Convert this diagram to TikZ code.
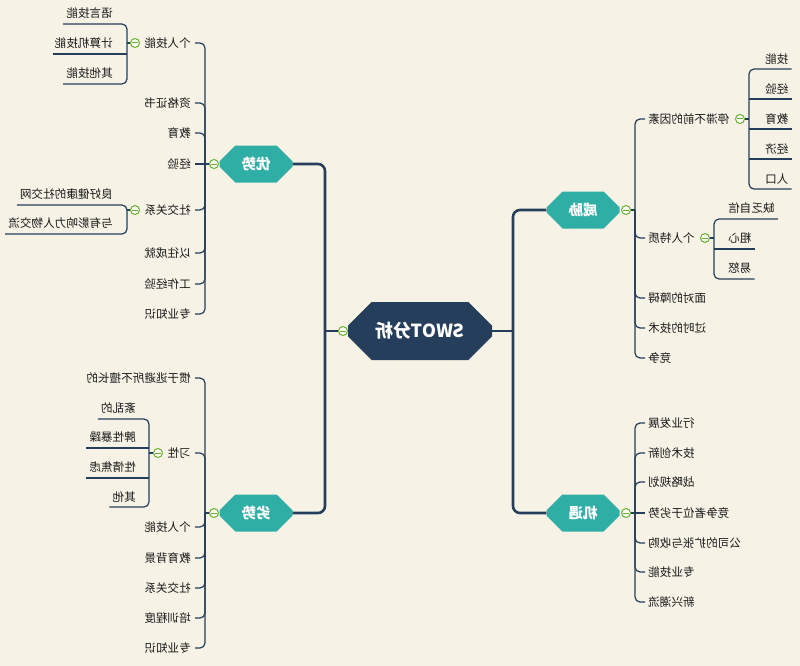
\documentclass[tikz,border=0pt]{standalone}
\usepackage{fontspec}
\usepackage{graphicx}
\setmainfont{Noto Sans CJK SC}
\usetikzlibrary{shapes.misc,calc}
\definecolor{paper}{RGB}{246,243,230}
\definecolor{navy}{RGB}{37,62,91}
\definecolor{tealc}{RGB}{47,174,166}
\definecolor{leaf}{RGB}{106,176,46}
\definecolor{ink}{RGB}{25,25,25}
\begin{document}
\begin{tikzpicture}[x=1pt,y=-1pt,
  lbl/.style={font=\fontsize{11.6}{13}\selectfont, text=ink, inner sep=1pt},
  br/.style={draw=navy, line width=1.2pt, rounded corners=5pt},
  mainln/.style={draw=navy, line width=2.6pt, rounded corners=7pt},
  topic/.style={chamfered rectangle, chamfered rectangle xsep=8pt, chamfered rectangle ysep=9pt,
    fill=tealc, text=white, font=\bfseries\fontsize{14.5}{16}\selectfont,
    minimum width=73pt, minimum height=37pt, inner sep=0pt},
  centre/.style={chamfered rectangle, chamfered rectangle xsep=14pt, chamfered rectangle ysep=15pt,
    fill=navy, text=white, font=\bfseries\fontsize{18}{20}\selectfont,
    minimum width=144pt, minimum height=58pt, inner sep=0pt},
  tog/.style={circle, draw=leaf, fill=white!60!paper, line width=1pt, minimum size=9pt, inner sep=0pt,
    path picture={\draw[leaf, line width=1pt] ($(path picture bounding box.center)+(-2.6,0)$) -- ($(path picture bounding box.center)+(2.6,0)$);}}
]
\fill[paper] (0,0) rectangle (800,666);
\useasboundingbox (0,0) rectangle (800,666);

% main topics
\node[centre] (swot) at (420,331) {\reflectbox{SWOT分析}};
\node[topic] (ys) at (256,164) {\reflectbox{优势}};
\node[topic] (ls) at (256,513) {\reflectbox{劣势}};
\node[topic] (wx) at (583,210) {\reflectbox{威胁}};
\node[topic] (jy) at (583,513) {\reflectbox{机遇}};
\node[tog] (t0) at (343,331) {};
\node[tog] (tys) at (214,164) {};
\node[tog] (tls) at (214,513) {};
\node[tog] (twx) at (626,210) {};
\node[tog] (tjy) at (626,513) {};
\coordinate (jL) at (325,331);
\coordinate (jR) at (513,331);
\draw[mainln] (ys.east) -- (325,164) -- (325,513) -- (ls.east);
\draw[mainln, rounded corners=0pt] (t0.west) -- (jL);
\draw[mainln, rounded corners=0pt] (swot.east) -- (jR);
\draw[mainln] (wx.west) -- (513,210) -- (513,513) -- (jy.west);

% ---- 优势 ----
\coordinate (bys) at (205,164);
\draw[br, rounded corners=0pt] (tys.west) -- (bys);
\foreach \n/\y/\t in {ys1/43/个人技能, ys2/103/资格证书, ys3/133/教育, ys5/210/社交关系, ys6/253/以往成就, ys7/284/工作经验, ys8/314/专业知识} {
  \node[lbl, anchor=east] (\n) at (192,\y) {\reflectbox{\t}};
  \draw[br] (bys) |- ([xshift=3pt]\n.east);
}
\node[lbl, anchor=east] (ys4) at (192,164) {\reflectbox{经验}};
\draw[br, rounded corners=0pt] (bys) -- ([xshift=3pt]ys4.east);

\node[tog] (g1) at (135,43) {};
\foreach \n/\y/\t in {ys11/13/语言技能, ys12/43/计算机技能, ys13/73/其他技能}
  \node[lbl, anchor=east] (\n) at (114,\y) {\reflectbox{\t}};
\draw[br] ($(ys11.west |- 0,24)+(-2,0)$) -- (127,24) -- (127,84) -- ($(ys13.west |- 0,84)+(-2,0)$);
\draw[br] ($(ys12.west |- 0,54)+(-1,0)$) -- (127,54);
\draw[br] (g1.west) -- (127,43);

\node[tog] (g2) at (135,210) {};
\foreach \n/\y/\t in {ys51/194/良好健康的社交网, ys52/223/与有影响力人物交流}
  \node[lbl, anchor=east] (\n) at (114,\y) {\reflectbox{\t}};
\draw[br] ($(ys51.west |- 0,205)+(-2,0)$) -- (127,205) -- (127,234) -- ($(ys52.west |- 0,234)+(-2,0)$);
\draw[br] (g2.west) -- (127,210);

% ---- 劣势 ----
\coordinate (bls) at (205,513);
\draw[br, rounded corners=0pt] (tls.west) -- (bls);
\foreach \n/\y/\t in {ls1/378/惯于逃避所不擅长的, ls2/453/习性, ls3/527/个人技能, ls4/558/教育背景, ls5/588/社交关系, ls6/618/培训程度, ls7/648/专业知识} {
  \node[lbl, anchor=east] (\n) at (192,\y) {\reflectbox{\t}};
  \draw[br] (bls) |- ([xshift=3pt]\n.east);
}
\node[tog] (g3) at (158,453) {};
\foreach \n/\y/\t in {ls21/408/紊乱的, ls22/437/脾性暴躁, ls23/467/性情焦虑, ls24/497/其他}
  \node[lbl, anchor=east] (\n) at (137,\y) {\reflectbox{\t}};
\draw[br] ($(ls21.west |- 0,419)+(-2,0)$) -- (149,419) -- (149,507) -- ($(ls24.west |- 0,507)+(-2,0)$);
\draw[br] ($(ls22.west |- 0,448)+(-2,0)$) -- (149,448);
\draw[br] ($(ls23.west |- 0,478)+(-2,0)$) -- (149,478);
\draw[br] (g3.west) -- (149,453);

% ---- 威胁 ----
\coordinate (bwx) at (635,210);
\draw[br, rounded corners=0pt] (twx.east) -- (bwx);
\foreach \n/\y/\t in {wx1/119/停滞不前的因素, wx2/238/个人特质, wx3/298/面对的障碍, wx4/328/过时的技术, wx5/358/竞争} {
  \node[lbl, anchor=west] (\n) at (647,\y) {\reflectbox{\t}};
  \draw[br] (bwx) |- ([xshift=-2pt]\n.west);
}
\node[tog] (g4) at (740,119) {};
\foreach \n/\y/\t in {wx11/59/技能, wx12/89/经验, wx13/119/教育, wx14/149/经济, wx15/179/人口}
  \node[lbl, anchor=west] (\n) at (764,\y) {\reflectbox{\t}};
\draw[br] ($(wx11.east |- 0,69)+(2,0)$) -- (749,69) -- (749,189) -- ($(wx15.east |- 0,189)+(2,0)$);
\draw[br] ($(wx12.east |- 0,99)+(2,0)$) -- (749,99);
\draw[br] ($(wx13.east |- 0,129)+(2,0)$) -- (749,129);
\draw[br] ($(wx14.east |- 0,159)+(2,0)$) -- (749,159);
\draw[br] (g4.east) -- (749,119);

\node[tog] (g5) at (705,238) {};
\foreach \n/\y/\t in {wx21/208/缺乏自信, wx22/238/粗心, wx23/268/易怒}
  \node[lbl, anchor=west] (\n) at (727,\y) {\reflectbox{\t}};
\draw[br] ($(wx21.east |- 0,219)+(2,0)$) -- (714,219) -- (714,279) -- ($(wx23.east |- 0,279)+(2,0)$);
\draw[br] ($(wx22.east |- 0,249)+(2,0)$) -- (714,249);
\draw[br] (g5.east) -- (714,238);

% ---- 机遇 ----
\coordinate (bjy) at (635,513);
\draw[br, rounded corners=0pt] (tjy.east) -- (bjy);
\foreach \n/\y/\t in {jy1/423/行业发展, jy2/453/技术创新, jy3/482/战略规划, jy5/543/公司的扩张与收购, jy6/572/专业技能, jy7/602/新兴潮流} {
  \node[lbl, anchor=west] (\n) at (647,\y) {\reflectbox{\t}};
  \draw[br] (bjy) |- ([xshift=-2pt]\n.west);
}
\node[lbl, anchor=west] (jy4) at (647,513) {\reflectbox{竞争者位于劣势}};
\draw[br, rounded corners=0pt] (bjy) -- ([xshift=-2pt]jy4.west);
\end{tikzpicture}
\end{document}
